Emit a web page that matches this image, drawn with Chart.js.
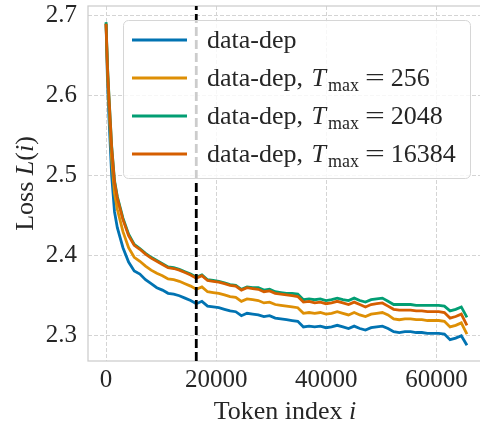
<!DOCTYPE html>
<html>
<head>
<meta charset="utf-8">
<script src="https://cdn.jsdelivr.net/npm/chart.js@4"></script>
<style>
  html, body { margin: 0; padding: 0; background: #fff; overflow: hidden; }
  canvas { display: block; }
</style>
</head>
<body>
<canvas id="lossChart" width="485" height="425"></canvas>
<script>
// token positions (x) sampled along the sequence
const tokenIdx = [0, 256, 512, 1024, 1536, 2048, 3072, 4096, 5120, 6144, 7168, 8192, 9216, 10240, 11264, 12288,
  13312, 14336, 15360, 16384, 17408, 18432, 19456, 20480, 21504, 22528, 23552, 24576, 25600, 26624, 27648, 28672,
  29696, 30720, 31744, 32768, 33792, 34816, 35840, 36864, 37888, 38912, 39936, 40960, 41984, 43008, 44032, 45056,
  46080, 47104, 48128, 49152, 50176, 51200, 52224, 53248, 54272, 55296, 56320, 57344, 58368, 59392, 60416, 61440,
  62464, 63488, 64512, 65536];

// loss curves
const lossDataDep = [2.690, 2.620, 2.575, 2.500, 2.455, 2.435, 2.410, 2.392, 2.381, 2.377, 2.370, 2.365, 2.360, 2.357, 2.353, 2.352,
  2.350, 2.347, 2.344, 2.340, 2.343, 2.337, 2.336, 2.335, 2.333, 2.331, 2.330, 2.325, 2.328, 2.327, 2.326, 2.324,
  2.325, 2.322, 2.321, 2.320, 2.319, 2.318, 2.311, 2.312, 2.311, 2.312, 2.310, 2.311, 2.313, 2.311, 2.309, 2.312,
  2.309, 2.307, 2.310, 2.311, 2.312, 2.309, 2.305, 2.304, 2.305, 2.305, 2.304, 2.304, 2.303, 2.303, 2.303, 2.302,
  2.295, 2.297, 2.300, 2.288];
const lossT256 = [2.690, 2.630, 2.590, 2.520, 2.478, 2.458, 2.430, 2.410, 2.398, 2.393, 2.387, 2.382, 2.378, 2.375, 2.371, 2.370,
  2.368, 2.365, 2.362, 2.358, 2.361, 2.355, 2.354, 2.353, 2.351, 2.349, 2.348, 2.343, 2.346, 2.345, 2.344, 2.341,
  2.342, 2.339, 2.338, 2.337, 2.336, 2.335, 2.328, 2.329, 2.328, 2.329, 2.327, 2.328, 2.330, 2.328, 2.326, 2.329,
  2.326, 2.324, 2.327, 2.328, 2.329, 2.326, 2.321, 2.320, 2.321, 2.321, 2.320, 2.320, 2.319, 2.319, 2.319, 2.318,
  2.311, 2.313, 2.316, 2.302];
const lossT2048 = [2.692, 2.638, 2.602, 2.537, 2.494, 2.474, 2.447, 2.427, 2.414, 2.409, 2.403, 2.398, 2.394, 2.390, 2.386, 2.385,
  2.383, 2.380, 2.377, 2.373, 2.376, 2.370, 2.369, 2.368, 2.366, 2.364, 2.363, 2.358, 2.361, 2.360, 2.360, 2.357,
  2.358, 2.355, 2.354, 2.353, 2.353, 2.352, 2.345, 2.346, 2.345, 2.346, 2.344, 2.345, 2.347, 2.345, 2.344, 2.347,
  2.344, 2.342, 2.345, 2.346, 2.347, 2.343, 2.339, 2.339, 2.339, 2.339, 2.338, 2.338, 2.338, 2.338, 2.338, 2.337,
  2.331, 2.333, 2.336, 2.323];
const lossT16384 = [2.690, 2.635, 2.600, 2.535, 2.492, 2.472, 2.445, 2.425, 2.413, 2.408, 2.402, 2.397, 2.393, 2.389, 2.385, 2.384,
  2.382, 2.379, 2.376, 2.372, 2.375, 2.369, 2.368, 2.367, 2.365, 2.363, 2.362, 2.357, 2.360, 2.359, 2.358, 2.355,
  2.356, 2.353, 2.352, 2.351, 2.350, 2.349, 2.342, 2.343, 2.341, 2.342, 2.340, 2.341, 2.343, 2.341, 2.339, 2.342,
  2.339, 2.336, 2.339, 2.340, 2.341, 2.337, 2.333, 2.332, 2.332, 2.332, 2.331, 2.331, 2.330, 2.330, 2.330, 2.329,
  2.322, 2.324, 2.327, 2.313];

const xTicks = [0, 20000, 40000, 60000];
const yTicks = [2.3, 2.4, 2.5, 2.6, 2.7];
const yTickLabels = ['2.3', '2.4', '2.5', '2.6', '2.7'];
const markerX = 16384;
const xMin = -3277, xMax = 68813;
const yMin = 2.2684, yMax = 2.7121;

const colors = { dataDep: '#0173b2', t256: '#de8f05', t2048: '#029e73', t16384: '#d55e00' };
const legendItems = [
  { color: colors.dataDep, label: 'data-dep', tmax: null },
  { color: colors.t256, label: 'data-dep, ', tmax: '256' },
  { color: colors.t2048, label: 'data-dep, ', tmax: '2048' },
  { color: colors.t16384, label: 'data-dep, ', tmax: '16384' }
];

const serif = "'Liberation Serif', 'Times New Roman', serif";
const textColor = '#262626';
const toPoints = (ys) => tokenIdx.map((x, i) => ({ x: x, y: ys[i] }));
const lineDs = (label, ys, color, order) => ({
  label, data: toPoints(ys), borderColor: color, borderWidth: 2.8, pointRadius: 0, tension: 0, order
});

// frame (all four spines, light gray)
const framePlugin = {
  id: 'frame',
  beforeDatasetsDraw(chart) {
    const { ctx, chartArea: a } = chart;
    ctx.save();
    ctx.strokeStyle = '#cccccc';
    ctx.lineWidth = 1.25;
    ctx.strokeRect(a.left, a.top, a.right - a.left, a.bottom - a.top);
    ctx.restore();
  }
};

// axis titles with math italics
const titlesPlugin = {
  id: 'titles',
  afterDraw(chart) {
    const { ctx, chartArea: a } = chart;
    ctx.save();
    ctx.fillStyle = textColor;
    ctx.textBaseline = 'alphabetic';
    const roman = `26px ${serif}`, ital = `italic 26px ${serif}`;
    // x title
    const xParts = [['Token index ', roman], ['i', ital]];
    let w = 0;
    xParts.forEach(p => { ctx.font = p[1]; w += ctx.measureText(p[0]).width; });
    let x = 285 - w / 2;
    xParts.forEach(p => { ctx.font = p[1]; ctx.fillText(p[0], x, 419); x += ctx.measureText(p[0]).width; });
    // y title
    const yParts = [['Loss ', roman], ['L', ital], ['(', roman], ['i', ital], [')', roman]];
    w = 0;
    yParts.forEach(p => { ctx.font = p[1]; w += ctx.measureText(p[0]).width; });
    ctx.translate(33, (a.top + a.bottom) / 2);
    ctx.rotate(-Math.PI / 2);
    x = -w / 2;
    yParts.forEach(p => { ctx.font = p[1]; ctx.fillText(p[0], x, 0); x += ctx.measureText(p[0]).width; });
    ctx.restore();
  }
};

// legend box with T_max subscripts
const legendPlugin = {
  id: 'mathLegend',
  afterDraw(chart) {
    const ctx = chart.ctx;
    ctx.save();
    ctx.beginPath();
    ctx.roundRect(123.5, 20.5, 347, 158, 5);
    ctx.fillStyle = 'rgba(255,255,255,0.8)';
    ctx.fill();
    ctx.strokeStyle = '#d6d6d6';
    ctx.lineWidth = 1;
    ctx.stroke();
    const main = `26px ${serif}`, ital = `italic 26px ${serif}`, sub = `18px ${serif}`;
    legendItems.forEach((item, k) => {
      const y = 40 + k * 38;
      ctx.strokeStyle = item.color;
      ctx.lineWidth = 2.8;
      ctx.beginPath();
      ctx.moveTo(132, y);
      ctx.lineTo(187, y);
      ctx.stroke();
      ctx.fillStyle = textColor;
      ctx.textBaseline = 'alphabetic';
      const base = y + 8;
      let x = 207;
      ctx.font = main;
      ctx.fillText(item.label, x, base);
      x += ctx.measureText(item.label).width + 2;
      if (item.tmax) {
        ctx.font = ital;
        ctx.fillText('T', x, base);
        x += ctx.measureText('T').width + 2;
        ctx.font = sub;
        ctx.fillText('max', x, base + 5);
        x += ctx.measureText('max').width + 6;
        ctx.font = main;
        ctx.save();
        ctx.translate(x, base);
        ctx.scale(1.35, 1);
        ctx.fillText('=', 0, 0);
        ctx.restore();
        x += ctx.measureText('=').width * 1.35 + 6;
        ctx.fillText(item.tmax, x, base);
      }
    });
    ctx.restore();
  }
};

new Chart(document.getElementById('lossChart'), {
  type: 'line',
  data: {
    datasets: [
      lineDs('data-dep', lossDataDep, colors.dataDep, 4),
      lineDs('data-dep, T_max = 256', lossT256, colors.t256, 3),
      lineDs('data-dep, T_max = 2048', lossT2048, colors.t2048, 2),
      lineDs('data-dep, T_max = 16384', lossT16384, colors.t16384, 1),
      { label: 'marker', data: [{ x: markerX, y: yMin }, { x: markerX, y: yMax }], borderColor: '#000',
        borderWidth: 2.8, borderDash: [9, 4], pointRadius: 0, order: 0 }
    ]
  },
  options: {
    responsive: false,
    animation: false,
    layout: { padding: { top: 6, left: 0, right: 0, bottom: 0 } },
    plugins: { legend: { display: false }, tooltip: { enabled: false } },
    scales: {
      x: {
        type: 'linear', min: xMin, max: xMax,
        afterBuildTicks: (s) => { s.ticks = xTicks.map(v => ({ value: v })); },
        afterFit: (s) => { s.height = 64; s.paddingLeft = 0; s.paddingRight = 0; },
        ticks: { font: { family: serif, size: 25 }, color: textColor, padding: 4, maxRotation: 0, autoSkip: false,
          callback: (v) => String(v) },
        grid: { color: '#d4d4d4', lineWidth: 1, drawTicks: false },
        border: { display: false, dash: [4, 2] }
      },
      y: {
        type: 'linear', min: yMin, max: yMax,
        afterBuildTicks: (s) => { s.ticks = yTicks.map(v => ({ value: v })); },
        afterFit: (s) => { s.width = 88; s.paddingTop = 0; s.paddingBottom = 0; },
        ticks: { font: { family: serif, size: 25 }, color: textColor, padding: 11, autoSkip: false,
          callback: (v) => yTickLabels[yTicks.findIndex(t => Math.abs(t - v) < 1e-9)] },
        grid: { color: '#d4d4d4', lineWidth: 1, drawTicks: false },
        border: { display: false, dash: [4, 2] }
      }
    }
  },
  plugins: [framePlugin, titlesPlugin, legendPlugin]
});
</script>
</body>
</html>
